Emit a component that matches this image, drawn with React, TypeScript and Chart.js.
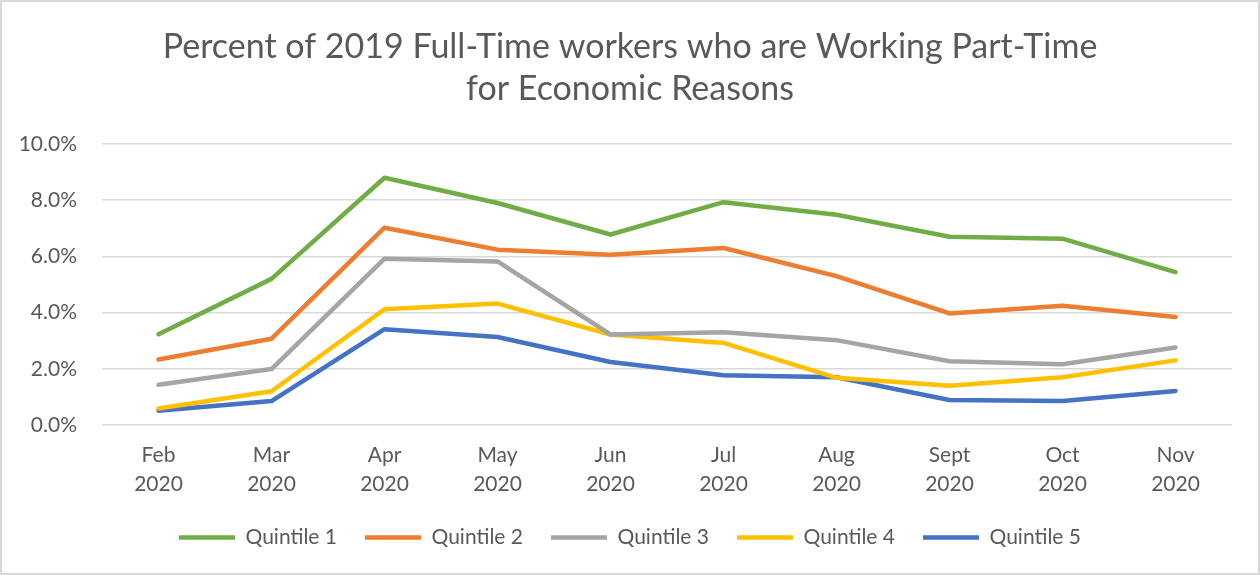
import React, { useEffect, useRef } from "react";
import { Chart, registerables } from "chart.js";

Chart.register(...registerables);

const categories: string[][] = [
  ["Feb", "2020"], ["Mar", "2020"], ["Apr", "2020"], ["May", "2020"], ["Jun", "2020"],
  ["Jul", "2020"], ["Aug", "2020"], ["Sept", "2020"], ["Oct", "2020"], ["Nov", "2020"],
];
const quintile1 = [3.23, 5.2, 8.8, 7.9, 6.78, 7.93, 7.48, 6.7, 6.63, 5.44];
const quintile2 = [2.33, 3.07, 7.02, 6.24, 6.06, 6.3, 5.3, 3.97, 4.24, 3.84];
const quintile3 = [1.43, 1.99, 5.92, 5.82, 3.22, 3.3, 3.02, 2.27, 2.16, 2.76];
const quintile4 = [0.59, 1.2, 4.12, 4.32, 3.22, 2.92, 1.68, 1.4, 1.7, 2.3];
const quintile5 = [0.51, 0.85, 3.41, 3.13, 2.24, 1.77, 1.7, 0.89, 0.85, 1.21];
const seriesNames = ["Quintile 1", "Quintile 2", "Quintile 3", "Quintile 4", "Quintile 5"];
const seriesColors = ["#70AD47", "#ED7D31", "#A5A5A5", "#FFC000", "#4472C4"];
const titleLines = [
  "Percent of 2019 Full-Time workers who are Working Part-Time",
  "for Economic Reasons",
];

const FONT = "Lato, 'Open Sans', sans-serif";
const TEXT = "#595959";

export default function App() {
  const ref = useRef<HTMLCanvasElement | null>(null);

  useEffect(() => {
    document.body.style.margin = "0";
    const canvas = ref.current;
    if (!canvas) return;
    const allSeries = [quintile1, quintile2, quintile3, quintile4, quintile5];
    const chart = new Chart(canvas, {
      type: "line",
      data: {
        labels: categories,
        datasets: allSeries.map((d, i) => ({
          label: seriesNames[i],
          data: d,
          borderColor: seriesColors[i],
          backgroundColor: seriesColors[i],
          borderWidth: 4.5,
          borderCapStyle: "round" as const,
          borderJoinStyle: "round" as const,
          pointRadius: 0,
          pointHoverRadius: 0,
          tension: 0,
          fill: false,
          yAxisID: "y",
        })),
      },
      options: {
        responsive: false,
        animation: false,
        devicePixelRatio: 1,
        layout: { padding: { left: 0, right: 0, top: 0, bottom: 17 } },
        plugins: {
          title: {
            display: true,
            text: titleLines,
            color: TEXT,
            font: { family: FONT, size: 34, weight: "normal", lineHeight: 1.235 },
            padding: { top: 26, bottom: 34 },
          },
          legend: {
            display: true,
            position: "bottom",
            labels: {
              usePointStyle: true,
              pointStyle: "line",
              pointStyleWidth: 56,
              color: TEXT,
              font: { family: FONT, size: 21 },
              padding: 28,
            },
          },
          tooltip: { enabled: false },
        },
        scales: {
          x: {
            offset: true,
            afterFit: (scale: any) => { scale.height = 74; },
            grid: { display: false, drawTicks: false },
            border: { display: false },
            ticks: {
              color: TEXT,
              font: { family: FONT, size: 21, lineHeight: 1.38 },
              padding: 16,
              maxRotation: 0,
              autoSkip: false,
            },
          },
          y: {
            position: "left",
            min: 0,
            max: 10,
            afterFit: (scale: any) => { scale.width = 102; },
            grid: { color: "#D9D9D9", lineWidth: 1.5, drawTicks: false },
            border: { display: false },
            ticks: {
              stepSize: 2,
              color: TEXT,
              font: { family: FONT, size: 21 },
              padding: 25,
              callback: (v: any) => Number(v).toFixed(1) + "%",
            },
          },
          yRight: {
            position: "right",
            min: 0,
            max: 10,
            afterFit: (scale: any) => { scale.width = 28; },
            grid: { display: false, drawTicks: false },
            border: { display: false },
            ticks: { display: false },
          },
        },
      },
    });
    return () => chart.destroy();
  }, []);

  return (
    <div style={{ position: "relative", width: 1260, height: 575, background: "#fff" }}>
      <canvas ref={ref} width={1260} height={575} style={{ display: "block" }} />
      <div
        style={{
          position: "absolute", left: 0, top: 0, width: 1260, height: 575,
          boxSizing: "border-box", border: "2px solid #D9D9D9", pointerEvents: "none",
        }}
      />
    </div>
  );
}
